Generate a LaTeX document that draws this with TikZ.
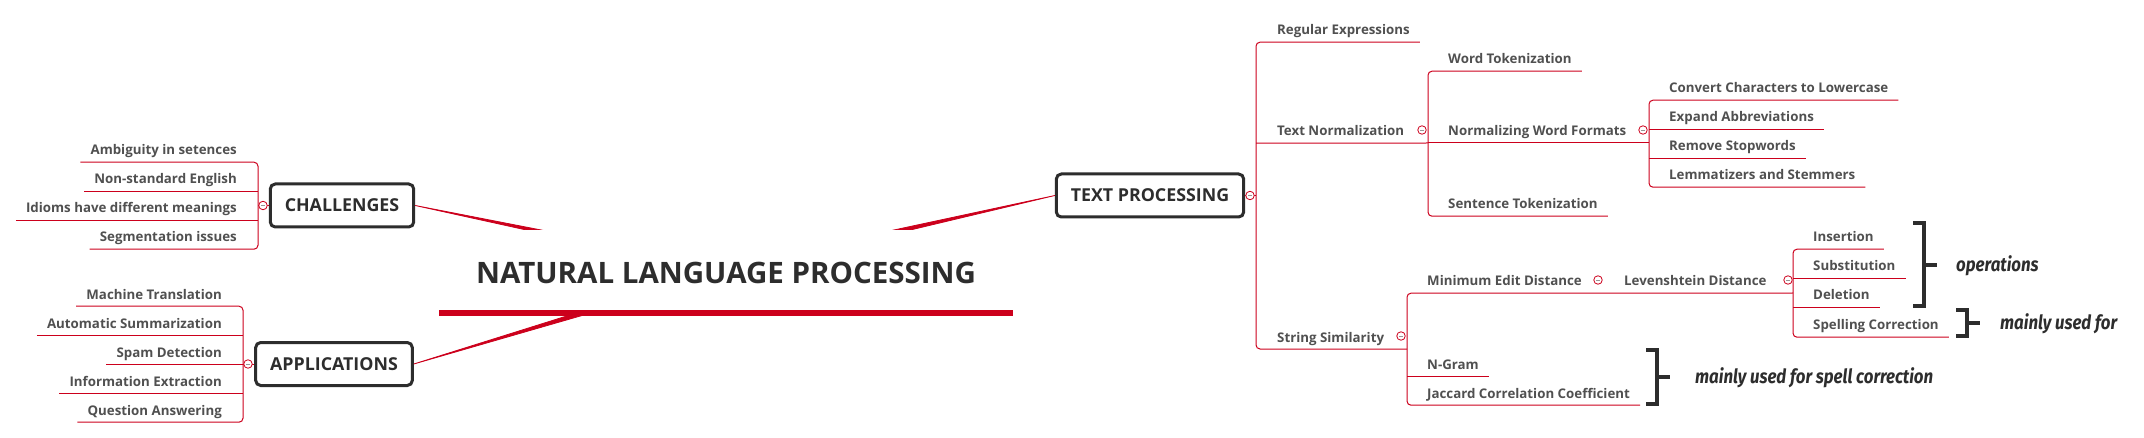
\documentclass[tikz,border=0pt]{standalone}
\usepackage{fontspec}
\setmainfont{Open Sans}
\newfontfamily\notefont[FakeStretch=0.86]{Fira Sans}
\usetikzlibrary{positioning}
\definecolor{nlpred}{RGB}{204,0,28}
\definecolor{leafgray}{RGB}{80,80,80}
\definecolor{boxgray}{RGB}{45,45,45}

\begin{document}
\begin{tikzpicture}[x=1pt, y=-1pt,
    branch/.style = {draw=nlpred, line width=1pt, rounded corners=4pt},
    leaf/.style = {font=\fontsize{13.3}{15}\selectfont\bfseries, text=leafgray, inner xsep=10pt, inner ysep=5pt, text depth=2pt},
    topic/.style = {draw=boxgray, line width=3pt, rounded corners=5pt, fill=white, text=boxgray, font=\fontsize{17.8}{21}\selectfont\bfseries, minimum height=43pt, inner xsep=14.5pt},
    core/.style = {fill=white, text=boxgray, font=\fontsize{29.5}{34}\selectfont\bfseries, minimum width=573pt, minimum height=86pt},
    fold/.style = {circle, draw=nlpred, fill=white, line width=0.8pt, minimum size=8.5pt, inner sep=0pt,
        path picture={\draw[leafgray!60, line width=0.6pt] ([xshift=-2pt]path picture bounding box.center) -- ([xshift=2pt]path picture bounding box.center);}},
    bracket/.style = {draw=boxgray, line width=4pt},
    note/.style = {font=\notefont\fontsize{19.6}{22}\selectfont\bfseries\itshape, text=boxgray, anchor=west, inner sep=0pt}]
    \useasboundingbox (0,0) rectangle (2144,438);

    % main branches
    \node[topic] (chal) at (342,205.5) {CHALLENGES};
    \node[topic] (appl) at (334,364) {APPLICATIONS};
    \node[topic] (textproc) at (1150,195.5) {TEXT PROCESSING};
    \coordinate (hub) at (726,270);
    \filldraw[nlpred, line width=0.8pt] (chal.east) -- ([yshift=4pt]hub) -- ([yshift=-4pt]hub) -- cycle;
    \filldraw[nlpred, line width=0.8pt] (appl.east) -- ([yshift=4pt]hub) -- ([yshift=-4pt]hub) -- cycle;
    \filldraw[nlpred, line width=0.8pt] (textproc.west) -- ([yshift=4pt]hub) -- ([yshift=-4pt]hub) -- cycle;
    \node[core] (nlp) at (726,273) {NATURAL LANGUAGE PROCESSING};
    \fill[nlpred] ([yshift=6pt]nlp.south west) rectangle (nlp.south east);

    % challenges
    \node[leaf, anchor=base east] (amb) at (247,155) {Ambiguity in setences};
    \node[leaf, anchor=base east] (nonstd) at (247,184) {Non-standard English};
    \node[leaf, anchor=base east] (idiom) at (247,213) {Idioms have different meanings};
    \node[leaf, anchor=base east] (segm) at (247,242) {Segmentation issues};
    \coordinate (jchal) at (258,205.5);
    \draw[branch] (amb.south west) -| (jchal) |- (segm.south west);
    \draw[branch] (nonstd.south west) -- (jchal |- nonstd.south);
    \draw[branch] (idiom.south west) -- (jchal |- idiom.south);
    \draw[branch] (chal.west) -- (jchal);
    \node[fold] (fchal) at (263,205.5) {};

    % applications
    \node[leaf, anchor=base east] (mt) at (232,299) {Machine Translation};
    \node[leaf, anchor=base east] (summ) at (232,328) {Automatic Summarization};
    \node[leaf, anchor=base east] (spam) at (232,357) {Spam Detection};
    \node[leaf, anchor=base east] (infoex) at (232,386) {Information Extraction};
    \node[leaf, anchor=base east] (qa) at (232,415) {Question Answering};
    \coordinate (jappl) at (243,364);
    \draw[branch] (mt.south west) -| (jappl) |- (qa.south west);
    \draw[branch] (summ.south west) -- (jappl |- summ.south);
    \draw[branch] (spam.south west) -- (jappl |- spam.south);
    \draw[branch] (infoex.south west) -- (jappl |- infoex.south);
    \draw[branch] (appl.west) -- (jappl);
    \node[fold] (fappl) at (248,364) {};

    % text processing
    \node[leaf, anchor=base west] (regex) at (1267,35) {Regular Expressions};
    \node[leaf, anchor=base west] (tnorm) at (1267,136) {Text Normalization};
    \node[leaf, anchor=base west] (strsim) at (1267,342) {String Similarity};
    \coordinate (jtp) at (1256,195.5);
    \coordinate (jss) at (1407,349);
    \draw[branch] (regex.south east) -| (jtp) |- (jss);
    \draw[branch] (textproc.east) -- (jtp);
    \node[fold] (ftp) at (1250,195.5) {};

    % text normalization
    \node[leaf, anchor=base west] (wordtok) at (1438,64) {Word Tokenization};
    \node[leaf, anchor=base west] (nwf) at (1438,136) {Normalizing Word Formats};
    \node[leaf, anchor=base west] (senttok) at (1438,209) {Sentence Tokenization};
    \coordinate (jtn) at (1428,143);
    \coordinate (jnwf) at (1649,143);
    \draw[branch] (jtp |- tnorm.south) -- (jtn);
    \draw[branch] (wordtok.south east) -| (jtn) |- (senttok.south east);
    \draw[branch] (jtn) -- (jnwf);
    \node[fold] (ftn) at (1422,130) {};

    % normalizing word formats
    \node[leaf, anchor=base west] (lower) at (1659,93) {Convert Characters to Lowercase};
    \node[leaf, anchor=base west] (abbrev) at (1659,122) {Expand Abbreviations};
    \node[leaf, anchor=base west] (stopw) at (1659,151) {Remove Stopwords};
    \node[leaf, anchor=base west] (lemma) at (1659,180) {Lemmatizers and Stemmers};
    \draw[branch] (lower.south east) -| (jnwf) |- (lemma.south east);
    \draw[branch] (jnwf |- abbrev.south) -- (abbrev.south east);
    \draw[branch] (jnwf |- stopw.south) -- (stopw.south east);
    \node[fold] (fnwf) at (1643,130) {};

    % string similarity
    \node[leaf, anchor=base west] (med) at (1417,286) {Minimum Edit Distance};
    \node[leaf, anchor=base west] (ngram) at (1417,369) {N-Gram};
    \node[leaf, anchor=base west] (jacc) at (1417,398) {Jaccard Correlation Coefficient};
    \node[leaf, anchor=base west] (leven) at (1614,286) {Levenshtein Distance};
    \coordinate (jld) at (1793,293);
    \draw[branch] (jld) -- (jss |- med.south) |- (jacc.south east);
    \draw[branch] (jss |- ngram.south) -- (ngram.south east);
    \node[fold] (fss) at (1401,336) {};
    \node[fold] (fmed) at (1598,280) {};

    % levenshtein distance
    \node[leaf, anchor=base west] (ins) at (1803,242) {Insertion};
    \node[leaf, anchor=base west] (subst) at (1803,271) {Substitution};
    \node[leaf, anchor=base west] (del) at (1803,300) {Deletion};
    \node[leaf, anchor=base west] (spell) at (1803,330) {Spelling Correction};
    \draw[branch] (ins.south east) -| (jld) |- (spell.south east);
    \draw[branch] (jld |- subst.south) -- (subst.south east);
    \draw[branch] (jld |- del.south) -- (del.south east);
    \node[fold] (fld) at (1788,280) {};

    % notes
    \draw[bracket] (1913,223) -| (1924,306) -- (1913,306);
    \draw[bracket] (1924,265) -- (1937,265);
    \node[note] (ops) at (1956,266) {operations};
    \draw[bracket] (1956,310) -| (1967,336) -- (1956,336);
    \draw[bracket] (1967,323) -- (1980,323);
    \node[note] (usedfor) at (2000,324) {mainly used for};
    \draw[bracket] (1646,350) -| (1657,404) -- (1646,404);
    \draw[bracket] (1657,377) -- (1670,377);
    \node[note] (spellnote) at (1695,378) {mainly used for spell correction};
\end{tikzpicture}
\end{document}
